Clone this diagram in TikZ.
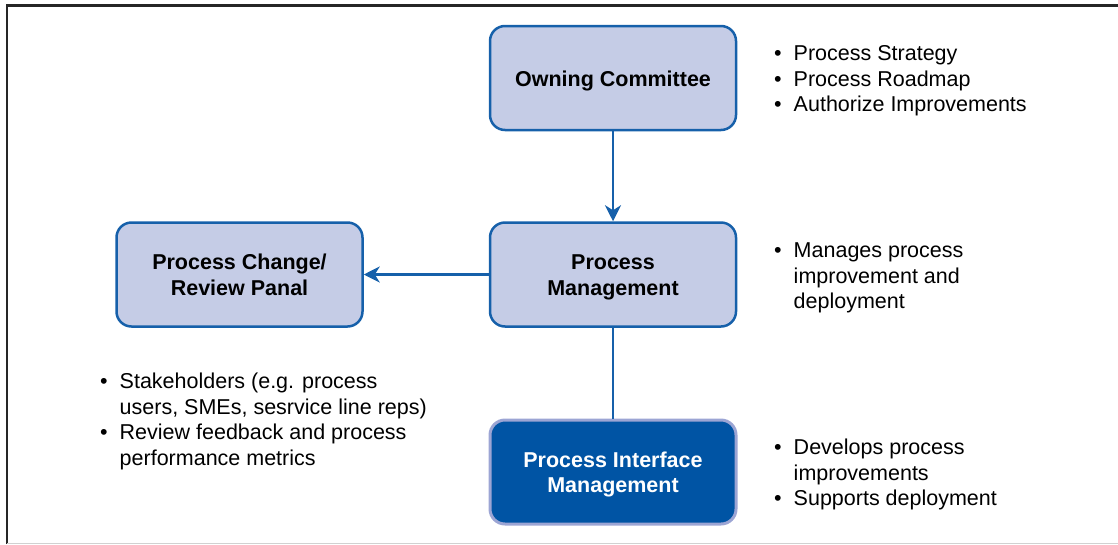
\documentclass[tikz,border=0pt]{standalone}
\usepackage{fontspec}
\setmainfont{Liberation Sans}
\usetikzlibrary{arrows.meta}
\definecolor{boxblue}{HTML}{1660AA}
\definecolor{boxfill}{HTML}{C5CCE6}
\definecolor{darkfill}{HTML}{0054A4}
\definecolor{darkrim}{HTML}{9CA5D4}
\newcommand{\pfont}{\fontsize{21.5}{25.4}\selectfont}
\newcommand{\unittext}[1]{\raisebox{-3pt}[\height][\depth]{\begin{tabular}{@{}c@{}}#1\end{tabular}}}
\newenvironment{blist}{\pfont\begin{tabular}{@{}l@{\hspace{12pt}}l@{}}}{\end{tabular}}

\begin{document}
\begin{tikzpicture}[x=1pt,y=-1pt,
  unit/.style={rounded corners=15pt,minimum width=246pt,minimum height=104pt,
    font=\pfont\bfseries,inner sep=0pt},
  lightunit/.style={unit,draw=boxblue,line width=2.5pt,fill=boxfill},
  darkunit/.style={unit,draw=darkrim,line width=3pt,fill=darkfill,text=white},
  link/.style={draw=boxblue,line width=2.5pt},
  notes/.style={anchor=west,inner sep=0pt}]
  \useasboundingbox (0,0) rectangle (1118,544);
  % frame
  \draw[line width=2.5pt,black!85] (7,544) -- (7,5.5) -- (1118,5.5);
  \draw[line width=1pt,black!18] (7,543) -- (1118,543);
  % units
  \node[lightunit] (owner) at (613,78) {\unittext{Owning Committee}};
  \node[lightunit] (procmgmt) at (613,274.5) {\unittext{Process\\Management}};
  \node[lightunit] (panel) at (239.5,274.5) {\unittext{Process Change/\\Review Panal}};
  \node[darkunit] (iface) at (613,472) {\unittext{Process Interface\\Management}};
  \draw[link,-{Stealth[length=16pt,width=16pt,inset=5pt]}] (owner) -- (procmgmt);
  \draw[link,-{Stealth[length=16pt,width=16pt,inset=5pt]}] (procmgmt) -- (panel);
  \draw[link] (procmgmt) -- (iface);
  % notes
  \node[notes] (ownernotes) at (774,81) {\begin{blist}
    \textbullet & Process Strategy\\
    \textbullet & Process Roadmap\\
    \textbullet & Authorize Improvements
  \end{blist}};
  \node[notes] (mgmtnotes) at (774,278) {\begin{blist}
    \textbullet & Manages process\\
     & improvement and\\
     & deployment
  \end{blist}};
  \node[notes] (ifacenotes) at (774,475) {\begin{blist}
    \textbullet & Develops process\\
     & improvements\\
    \textbullet & Supports deployment
  \end{blist}};
  \node[notes] (panelnotes) at (100,422) {\begin{blist}
    \textbullet & Stakeholders (e.g. process\\
     & users, SMEs, sesrvice line reps)\\
    \textbullet & Review feedback and process\\
     & performance metrics
  \end{blist}};
\end{tikzpicture}
\end{document}
